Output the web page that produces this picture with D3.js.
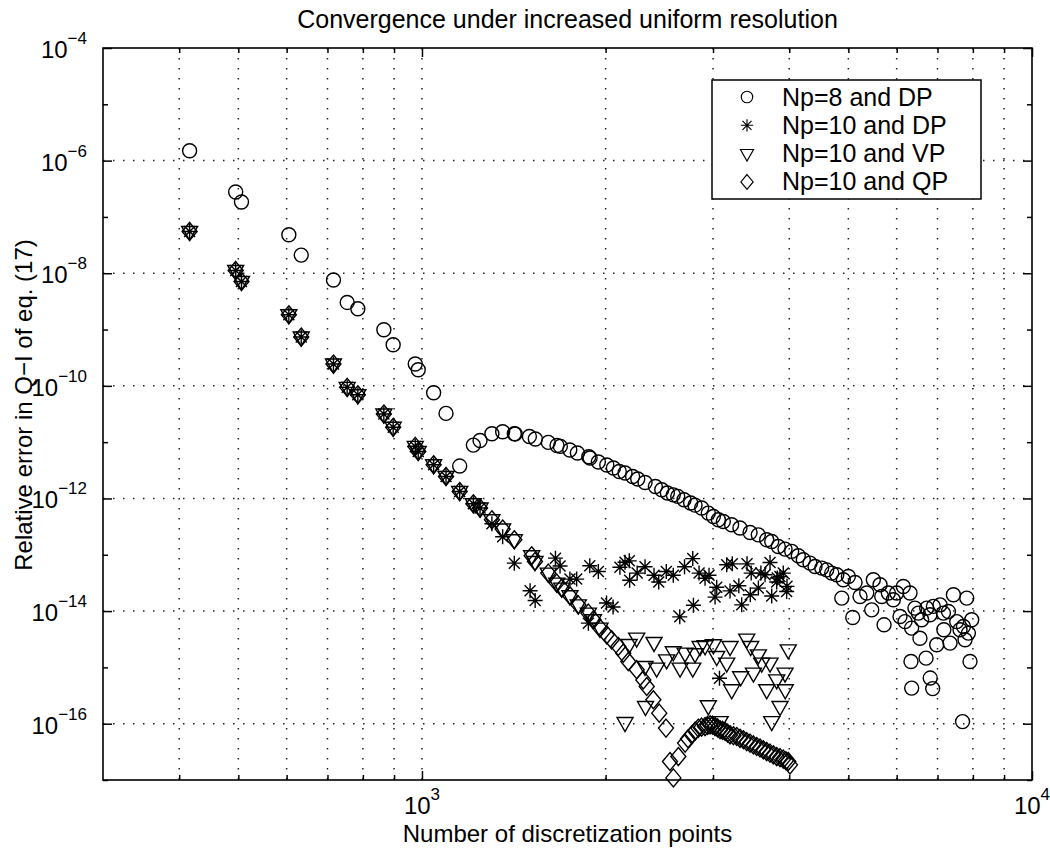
<!DOCTYPE html>
<html>
<head>
<meta charset="utf-8">
<script src="https://cdnjs.cloudflare.com/ajax/libs/d3/7.8.5/d3.min.js"></script>
<style>
  body { margin: 0; background: #fff; }
  text { font-family: "Liberation Sans", Arial, Helvetica, sans-serif; fill: #000; }
</style>
</head>
<body>
<div id="chart"></div>
<script>
// series: Np=8 and DP (circles)
var circleN = [416, 495, 506, 605, 634, 716, 754, 785, 866, 897,
  975, 986, 1045, 1095, 1153, 1214, 1245, 1302, 1356, 1417,
  1422, 1500, 1534, 1611, 1665, 1686, 1747, 1798, 1877, 1886,
  1946, 2009, 2060, 2106, 2152, 2215, 2258, 2321, 2413, 2472,
  2525, 2582, 2626, 2689, 2757, 2803, 2874, 2947, 3004, 3061,
  3119, 3218, 3321, 3450, 3559, 3674, 3744, 3838, 3937, 4037,
  4139, 4218, 4326, 4409, 4522, 4608, 4696, 4786, 4906, 5000,
  5128, 4877, 5083, 5225, 5359, 5494, 5461, 5635, 5671, 5721,
  5814, 5925, 6001, 6152, 6310, 6076, 6192, 6348, 6428, 6511,
  6593, 6551, 6720, 6804, 6892, 6979, 7068, 7158, 7170, 7295,
  7339, 7433, 7527, 7621, 7720, 7766, 7816, 7866, 7965, 7914,
  6333, 6703, 6810, 6350, 6874, 7694];
var circleErr = [1.5e-6, 2.77e-7, 1.84e-7, 4.83e-8, 2.1e-8, 7.57e-9, 3.03e-9, 2.34e-9, 9.9e-10, 5.37e-10,
  2.44e-10, 1.93e-10, 7.54e-11, 3.24e-11, 3.76e-12, 8.87e-12, 1.07e-11, 1.41e-11, 1.53e-11, 1.41e-11,
  1.4e-11, 1.26e-11, 1.14e-11, 9.9e-12, 8.73e-12, 8.4e-12, 7.24e-12, 6.4e-12, 5.5e-12, 5.22e-12,
  4.43e-12, 3.92e-12, 3.47e-12, 3.02e-12, 2.83e-12, 2.46e-12, 2.21e-12, 1.92e-12, 1.63e-12, 1.43e-12,
  1.25e-12, 1.16e-12, 1.09e-12, 9.5e-13, 8.3e-13, 7.6e-13, 6.76e-13, 5.5e-13, 4.79e-13, 4.18e-13,
  3.9e-13, 3.41e-13, 2.98e-13, 2.49e-13, 2.26e-13, 1.85e-13, 1.72e-13, 1.4e-13, 1.26e-13, 1.15e-13,
  9.6e-14, 8.15e-14, 7.1e-14, 6.2e-14, 5.8e-14, 5.4e-14, 4.73e-14, 4.42e-14, 3.6e-14, 4.12e-14,
  3.22e-14, 1.7e-14, 7.7e-15, 1.82e-14, 2.09e-14, 3.6e-14, 1.05e-14, 2.93e-14, 1.82e-14, 5.7e-15,
  2.09e-14, 1.59e-14, 2.09e-14, 2.73e-14, 2.09e-14, 8.0e-15, 6.5e-15, 4.99e-15, 1.13e-14, 9.2e-15,
  7.0e-15, 3.3e-15, 1.13e-14, 8.6e-15, 1.21e-14, 2.52e-15, 1.29e-14, 9.2e-15, 4.66e-15, 9.8e-15,
  2.7e-15, 1.95e-14, 6.5e-15, 4.66e-15, 5.33e-15, 3.1e-15, 1.7e-14, 4.06e-15, 7.0e-15, 1.27e-15,
  1.27e-15, 1.46e-15, 6.46e-16, 4.29e-16, 4.2e-16, 1.09e-16];

// series: Np=10 and DP (asterisks)
var starN = [416, 495, 506, 605, 634, 716, 754, 785, 866, 897,
  975, 986, 1045, 1095, 1153, 1214, 1245, 1302, 1356, 1417,
  1504, 1533, 1655, 1684, 1748, 1793, 1874, 1884, 1946, 2007,
  2057, 2111, 2152, 2187, 2190, 2253, 2321, 2401, 2444, 2515,
  2582, 2646, 2694, 2779, 2786, 2846, 2911, 2955, 3023, 3042,
  3074, 3159, 3199, 3226, 3307, 3343, 3411, 3453, 3465, 3560,
  3594, 3651, 3720, 3744, 3815, 3823, 3862, 3911, 3961, 3966];
var starErr = [5.52e-8, 1.12e-8, 7.15e-9, 1.83e-9, 7.36e-10, 2.44e-10, 9.4e-11, 6.95e-11, 3.16e-11, 1.84e-11,
  8.4e-12, 6.84e-12, 3.97e-12, 2.46e-12, 1.33e-12, 8.05e-13, 6.75e-13, 3.56e-13, 2.09e-13, 7.1e-14,
  2.3e-14, 1.54e-14, 8.7e-14, 6.3e-14, 3.7e-14, 3.7e-14, 6.1e-15, 6.4e-14, 5.05e-14, 1.39e-14,
  1.18e-14, 6.0e-14, 7.36e-14, 7.8e-14, 3.52e-14, 4.73e-14, 6.12e-14, 4.33e-14, 3.29e-14, 5.05e-14,
  4.33e-14, 7.9e-15, 6.12e-14, 8.55e-14, 1.27e-14, 4.73e-14, 3.83e-14, 4.33e-14, 1.77e-14, 2.65e-14,
  6.4e-16, 6.64e-14, 2.28e-14, 6.9e-14, 2.81e-14, 1.29e-14, 6.9e-14, 1.95e-14, 4.73e-14, 2.56e-14,
  4.73e-14, 4.42e-14, 7.3e-14, 1.85e-14, 3.29e-14, 3.86e-14, 4.12e-14, 4.73e-14, 2.23e-14, 2.75e-14];

// series: Np=10 and VP (triangles)
var triN = [416, 495, 506, 605, 634, 716, 754, 785, 866, 897,
  975, 986, 1045, 1095, 1153, 1214, 1245, 1302, 1356, 1417,
  1513, 1532, 1611, 1663, 1695, 1748, 1804, 1874, 1910, 1958,
  2152, 2186, 2249, 2321, 2325, 2401, 2425, 2518, 2582, 2649,
  2699, 2779, 2803, 2857, 2911, 2947, 3004, 3042, 3081, 3159,
  3199, 3219, 3330, 3407, 3458, 3494, 3560, 3605, 3674, 3720,
  3744, 3815, 3863, 3937, 3940, 3985];
var triErr = [5.52e-8, 1.12e-8, 7.15e-9, 1.83e-9, 7.36e-10, 2.44e-10, 9.4e-11, 6.95e-11, 3.16e-11, 1.84e-11,
  8.4e-12, 6.84e-12, 3.97e-12, 2.46e-12, 1.33e-12, 8.05e-13, 6.75e-13, 4.19e-13, 2.86e-13, 1.85e-13,
  9.6e-14, 7.6e-14, 4.73e-14, 3.14e-14, 2.56e-14, 1.87e-14, 1.29e-14, 9.2e-15, 7.0e-15, 4.99e-15,
  1.05e-16, 2.55e-15, 3.31e-15, 1.04e-15, 2.02e-16, 2.77e-15, 9.7e-16, 1.36e-15, 1.89e-15, 9.7e-16,
  1.79e-15, 9.7e-16, 1.75e-15, 2.35e-15, 2.42e-15, 2.08e-16, 2.52e-15, 1.56e-15, 1.09e-16, 1.19e-15,
  2.35e-15, 4.0e-16, 6.8e-16, 3.18e-15, 2.35e-15, 7.9e-16, 1.67e-15, 1.19e-15, 4.0e-16, 1.19e-15,
  1.09e-16, 6.0e-16, 2.02e-16, 7.9e-16, 4.0e-16, 2.05e-15];

// series: Np=10 and QP (diamonds)
var diamN = [416, 495, 506, 605, 634, 716, 754, 785, 866, 897,
  975, 986, 1045, 1095, 1153, 1214, 1245, 1302, 1356, 1417,
  1513, 1532, 1611, 1663, 1695, 1748, 1804, 1874, 1910, 1958,
  2008, 2046, 2098, 2138, 2179, 2249, 2306, 2336, 2395, 2449,
  2512, 2550, 2583, 2632, 2700, 2730, 2769, 2804, 2839, 2873,
  2911, 2939, 2967, 2995, 3023, 3052, 3081, 3110, 3140, 3170,
  3199, 3240, 3281, 3322, 3364, 3407, 3450, 3494, 3538, 3582,
  3627, 3673, 3720, 3767, 3815, 3863, 3911, 3950, 3985, 4011];
var diamErr = [5.52e-8, 1.12e-8, 7.15e-9, 1.83e-9, 7.36e-10, 2.44e-10, 9.4e-11, 6.95e-11, 3.16e-11, 1.84e-11,
  8.4e-12, 6.84e-12, 3.97e-12, 2.46e-12, 1.33e-12, 8.05e-13, 6.75e-13, 4.19e-13, 2.86e-13, 1.85e-13,
  9.6e-14, 7.6e-14, 4.73e-14, 3.14e-14, 2.56e-14, 1.87e-14, 1.29e-14, 9.2e-15, 7.0e-15, 4.99e-15,
  3.79e-15, 3.09e-15, 2.35e-15, 1.79e-15, 1.27e-15, 9.1e-16, 6.0e-16, 4.58e-16, 2.66e-16, 1.54e-16,
  8.35e-17, 2.13e-17, 1.09e-17, 2.61e-17, 4.52e-17, 5.4e-17, 6.35e-17, 7.4e-17, 8.35e-17, 8.7e-17,
  8.9e-17, 9.3e-17, 9.55e-17, 9.4e-17, 8.9e-17, 8.4e-17, 7.8e-17, 7.6e-17, 7.28e-17, 6.8e-17,
  6.35e-17, 6.1e-17, 5.93e-17, 5.5e-17, 5.18e-17, 4.8e-17, 4.52e-17, 4.2e-17, 3.94e-17, 3.7e-17,
  3.44e-17, 3.2e-17, 3.0e-17, 2.8e-17, 2.61e-17, 2.5e-17, 2.35e-17, 2.2e-17, 2.13e-17, 1.86e-17];

var legendLabels = ["Np=8 and DP", "Np=10 and DP", "Np=10 and VP", "Np=10 and QP"];

// ticks
var xMajorTicks = [1e3, 1e4];
var xMinorTicks = [400, 500, 600, 700, 800, 900, 2000, 3000, 4000, 5000, 6000, 7000, 8000, 9000];
var xTickExps = ["3", "4"];
var yMajorTicks = [1e-16, 1e-14, 1e-12, 1e-10, 1e-8, 1e-6, 1e-4];
var yMinorTicks = [1e-17, 1e-15, 1e-13, 1e-11, 1e-9, 1e-7, 1e-5];
var yTickExps = ["\u221216", "\u221214", "\u221212", "\u221210", "\u22128", "\u22126", "\u22124"];

// dimensions
var margin = {top: 48, right: 18, bottom: 68, left: 103},
    width = 1050 - margin.left - margin.right,
    height = 848 - margin.top - margin.bottom;

var x = d3.scaleLog().domain([300, 1e4]).range([0, width]);
var y = d3.scaleLog().domain([1e-17, 1e-4]).range([height, 0]);

var svg = d3.select("#chart").append("svg")
    .attr("width", 1050)
    .attr("height", 848);

var g = svg.append("g")
    .attr("transform", "translate(" + margin.left + "," + margin.top + ")");

// dotted grid
var gridStyle = function(sel) {
  sel.attr("stroke", "#222")
     .attr("stroke-width", 1.5)
     .attr("stroke-dasharray", "1.5,8.5");
};

g.selectAll(".vgrid")
    .data(xMinorTicks.concat([1e3]))
  .enter().append("line")
    .attr("class", "vgrid")
    .attr("x1", function(d) { return x(d); })
    .attr("x2", function(d) { return x(d); })
    .attr("y1", 0)
    .attr("y2", height)
    .call(gridStyle);

g.selectAll(".hgrid")
    .data(yMajorTicks.slice(0, -1))
  .enter().append("line")
    .attr("class", "hgrid")
    .attr("x1", 0)
    .attr("x2", width)
    .attr("y1", function(d) { return y(d); })
    .attr("y2", function(d) { return y(d); })
    .call(gridStyle);

// marker shapes
var markers = {
  circle: "M7,0A7,7 0 1,1 -7,0A7,7 0 1,1 7,0Z",
  star: "M-7.5,0H7.5M0,-7.5V7.5M-5.5,-5.5L5.5,5.5M-5.5,5.5L5.5,-5.5",
  tri: "M-8,-5L8,-5L0,9Z",
  diamond: "M0,-9L7.5,0L0,9L-7.5,0Z"
};

function drawSeries(nArr, eArr, shape) {
  var pts = nArr.map(function(n, i) { return {n: n, e: eArr[i]}; });
  g.append("g").selectAll("path")
      .data(pts)
    .enter().append("path")
      .attr("d", markers[shape])
      .attr("transform", function(d) { return "translate(" + x(d.n) + "," + y(d.e) + ")"; })
      .attr("fill", "none")
      .attr("stroke", "#000")
      .attr("stroke-width", 1.4);
}

drawSeries(circleN, circleErr, "circle");
drawSeries(starN, starErr, "star");
drawSeries(triN, triErr, "tri");
drawSeries(diamN, diamErr, "diamond");

// ticks (inward, on all four sides)
function tickAxis(axis, transform) {
  var a = g.append("g").attr("transform", transform).call(axis);
  a.select(".domain").remove();
  a.selectAll(".tick line").attr("stroke", "#000").attr("stroke-width", 1.5);
}

tickAxis(d3.axisBottom(x).tickValues(xMinorTicks).tickSize(-5).tickFormat(""), "translate(0," + height + ")");
tickAxis(d3.axisBottom(x).tickValues(xMajorTicks).tickSize(-9).tickFormat(""), "translate(0," + height + ")");
tickAxis(d3.axisTop(x).tickValues(xMinorTicks).tickSize(-5).tickFormat(""), "translate(0,0)");
tickAxis(d3.axisTop(x).tickValues(xMajorTicks).tickSize(-9).tickFormat(""), "translate(0,0)");
tickAxis(d3.axisLeft(y).tickValues(yMinorTicks).tickSize(-5).tickFormat(""), "translate(0,0)");
tickAxis(d3.axisLeft(y).tickValues(yMajorTicks).tickSize(-9).tickFormat(""), "translate(0,0)");
tickAxis(d3.axisRight(y).tickValues(yMinorTicks).tickSize(-5).tickFormat(""), "translate(" + width + ",0)");
tickAxis(d3.axisRight(y).tickValues(yMajorTicks).tickSize(-9).tickFormat(""), "translate(" + width + ",0)");

// axes box
g.append("rect")
    .attr("width", width)
    .attr("height", height)
    .attr("fill", "none")
    .attr("stroke", "#000")
    .attr("stroke-width", 1.6);

// tick labels with superscript exponents
var xl = g.selectAll(".xlabel")
    .data(xMajorTicks)
  .enter().append("text")
    .attr("class", "xlabel")
    .attr("x", function(d) { return x(d); })
    .attr("y", height + 34)
    .attr("text-anchor", "middle")
    .style("font-size", "24px");
xl.append("tspan").text("10");
xl.append("tspan").attr("dy", -14).style("font-size", "17px")
    .text(function(d, i) { return xTickExps[i]; });

var yl = g.selectAll(".ylabel")
    .data(yMajorTicks)
  .enter().append("text")
    .attr("class", "ylabel")
    .attr("x", -16)
    .attr("y", function(d) { return y(d) + 10; })
    .attr("text-anchor", "end")
    .style("font-size", "24px");
yl.append("tspan").text("10");
yl.append("tspan").attr("dy", -14).style("font-size", "17px")
    .text(function(d, i) { return yTickExps[i]; });

// titles
svg.append("text")
    .attr("x", margin.left + width / 2)
    .attr("y", 28)
    .attr("text-anchor", "middle")
    .style("font-size", "25px")
    .text("Convergence under increased uniform resolution");

svg.append("text")
    .attr("x", margin.left + width / 2)
    .attr("y", 842)
    .attr("text-anchor", "middle")
    .style("font-size", "24px")
    .text("Number of discretization points");

svg.append("text")
    .attr("transform", "translate(32,405) rotate(-90)")
    .attr("text-anchor", "middle")
    .style("font-size", "24px")
    .text("Relative error in Q\u2212I of eq. (17)");

// legend
var legend = svg.append("g").attr("transform", "translate(712,80)");
legend.append("rect")
    .attr("width", 269)
    .attr("height", 119)
    .attr("fill", "#fff")
    .attr("stroke", "#000")
    .attr("stroke-width", 1.5);

var legendShapes = ["circle", "star", "tri", "diamond"];
var rows = legend.selectAll(".lrow")
    .data(legendLabels)
  .enter().append("g")
    .attr("class", "lrow")
    .attr("transform", function(d, i) { return "translate(0," + (17 + i * 28.3) + ")"; });

rows.append("path")
    .attr("d", function(d, i) { return markers[legendShapes[i]]; })
    .attr("transform", "translate(35,0) scale(0.82)")
    .attr("fill", "none")
    .attr("stroke", "#000")
    .attr("stroke-width", 1.4);

rows.append("text")
    .attr("x", 70)
    .attr("y", 8.5)
    .style("font-size", "25px")
    .text(function(d) { return d; });
</script>
</body>
</html>
